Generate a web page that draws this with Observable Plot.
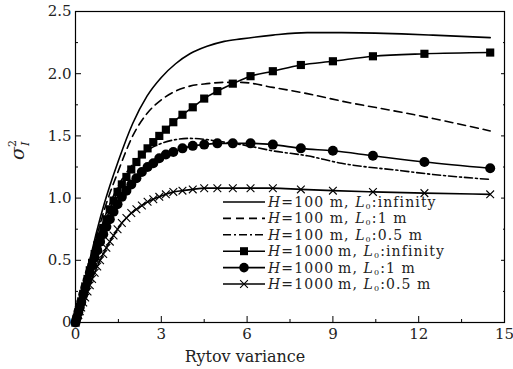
<!DOCTYPE html>
<html>
<head>
<meta charset="utf-8">
<script src="https://cdn.jsdelivr.net/npm/d3@7"></script>
<script src="https://cdn.jsdelivr.net/npm/@observablehq/plot@0.6"></script>
<style>
  html, body { margin: 0; padding: 0; background: #fff; }
  #chart { width: 513px; height: 369px; }
  #chart svg text { font-family: 'DejaVu Serif', 'Liberation Serif', serif !important; }
</style>
</head>
<body>
<div id="chart"></div>
<script>
// ---- data ----
// H = 100 m curves (no markers)
const xH100 = [0, 0.25, 0.5, 0.75, 1, 1.5, 2, 2.5, 3, 3.5, 4, 4.6, 5.2, 5.8, 6.9, 8.1, 9.3, 11.4, 12.5, 14.5];
const yH100Inf = [0, 0.26, 0.5, 0.74, 0.95, 1.3, 1.6, 1.82, 1.97, 2.08, 2.16, 2.22, 2.26, 2.28, 2.31, 2.33, 2.33, 2.32, 2.31, 2.29];
const yH100L1 = [0, 0.25, 0.48, 0.70, 0.9, 1.22, 1.5, 1.68, 1.79, 1.86, 1.9, 1.92, 1.93, 1.93, 1.89, 1.84, 1.78, 1.69, 1.64, 1.54];
const yH100L05 = [0, 0.23, 0.45, 0.65, 0.83, 1.1, 1.27, 1.38, 1.44, 1.47, 1.48, 1.47, 1.45, 1.43, 1.38, 1.34, 1.28, 1.22, 1.19, 1.15];

// H = 1000 m curves (with markers), shared sample positions
const xH1000 = [0, 0.05, 0.1, 0.15, 0.2, 0.27, 0.34, 0.42, 0.5, 0.58, 0.67, 0.76, 0.86, 0.97, 1.08, 1.2, 1.33, 1.47, 1.62, 1.78, 1.95, 2.13, 2.32, 2.52, 2.72, 2.93, 3.16, 3.42, 3.74, 4.1, 4.5, 4.96, 5.5, 6.12, 6.9, 7.88, 9.0, 10.4, 12.2, 14.5];
const yH1000Inf = [0, 0.04, 0.085, 0.125, 0.17, 0.23, 0.29, 0.35, 0.42, 0.48, 0.55, 0.62, 0.69, 0.76, 0.83, 0.91, 0.98, 1.05, 1.11, 1.17, 1.23, 1.29, 1.35, 1.40, 1.45, 1.50, 1.55, 1.61, 1.67, 1.73, 1.80, 1.86, 1.92, 1.98, 2.02, 2.07, 2.10, 2.14, 2.16, 2.17];
const yH1000L1 = [0, 0.04, 0.085, 0.125, 0.165, 0.225, 0.28, 0.34, 0.40, 0.46, 0.52, 0.58, 0.65, 0.71, 0.77, 0.83, 0.89, 0.95, 1.01, 1.06, 1.11, 1.16, 1.21, 1.25, 1.28, 1.32, 1.35, 1.37, 1.40, 1.42, 1.43, 1.44, 1.44, 1.44, 1.43, 1.40, 1.38, 1.34, 1.29, 1.24];
const yH1000L05 = [0, 0.03, 0.06, 0.09, 0.12, 0.16, 0.2, 0.25, 0.3, 0.35, 0.4, 0.45, 0.5, 0.55, 0.6, 0.65, 0.7, 0.75, 0.8, 0.84, 0.88, 0.91, 0.94, 0.97, 0.99, 1.01, 1.03, 1.05, 1.06, 1.07, 1.08, 1.08, 1.08, 1.08, 1.08, 1.07, 1.06, 1.05, 1.04, 1.03];

const xTicks = [0, 3, 6, 9, 12, 15];
const xMinor = [1.5, 4.5, 7.5, 10.5, 13.5];
const yTicks = [0, 0.5, 1.0, 1.5, 2.0, 2.5];
const yTickLabels = ["0", "0.5", "1.0", "1.5", "2.0", "2.5"];
const yMinor = [0.25, 0.75, 1.25, 1.75, 2.25];
const xLabel = "Rytov variance";
const legendLabels = [
  ["H", "=100 m, ", "L", "0", ":infinity"],
  ["H", "=100 m, ", "L", "0", ":1 m"],
  ["H", "=100 m, ", "L", "0", ":0.5 m"],
  ["H", "=1000\u2009m, ", "L", "0", ":infinity"],
  ["H", "=1000\u2009m, ", "L", "0", ":1 m"],
  ["H", "=1000\u2009m, ", "L", "0", ":0.5 m"]
];

// ---- build tables ----
const toRows = (xs, ys) => xs.map((x, i) => ({x, y: ys[i]}));
const s1 = toRows(xH100, yH100Inf);
const s2 = toRows(xH100, yH100L1);
const s3 = toRows(xH100, yH100L05);
const s4 = toRows(xH1000, yH1000Inf);
const s5 = toRows(xH1000, yH1000L1);
const s6 = toRows(xH1000, yH1000L05);

const FONT = "'DejaVu Serif', 'Liberation Serif', serif";
const FS = 15;
const curve = "monotone-x";
const blank = () => "";

const plot = Plot.plot({
  width: 513,
  height: 369,
  marginLeft: 75,
  marginRight: 9,
  marginTop: 11,
  marginBottom: 47,
  style: {fontFamily: FONT, fontSize: FS + "px", background: "white", color: "black"},
  x: {domain: [0, 15]},
  y: {domain: [0, 2.5]},
  marks: [
    // inward ticks
    Plot.axisX(xTicks, {tickSize: -6, tickFormat: blank, stroke: "black", label: null}),
    Plot.axisX(xMinor, {tickSize: -3, tickFormat: blank, stroke: "black", label: null}),
    Plot.axisX(xTicks, {tickSize: 0, tickPadding: 6, fontSize: FS, fill: "#222", label: null}),
    Plot.axisY(yTicks, {tickSize: -6, tickFormat: blank, stroke: "black", label: null}),
    Plot.axisY(yMinor, {tickSize: -3, tickFormat: blank, stroke: "black", label: null}),
    Plot.axisY(yTicks, {tickSize: 0, tickPadding: 4, fontSize: FS, fill: "#222", tickFormat: (d, i) => yTickLabels[i], label: null}),
    Plot.axisY(yTicks, {anchor: "right", tickSize: -4, tickFormat: blank, stroke: "black", label: null}),
    Plot.axisY(yMinor, {anchor: "right", tickSize: -2, tickFormat: blank, stroke: "black", label: null}),
    Plot.frame({stroke: "black", strokeWidth: 1.2}),
    // H = 100 m
    Plot.line(s1, {x: "x", y: "y", stroke: "black", strokeWidth: 1.6, curve}),
    Plot.line(s2, {x: "x", y: "y", stroke: "black", strokeWidth: 1.6, strokeDasharray: "8,5", curve}),
    Plot.line(s3, {x: "x", y: "y", stroke: "black", strokeWidth: 1.6, strokeDasharray: "8,3,2,3", curve}),
    // H = 1000 m
    Plot.line(s4, {x: "x", y: "y", stroke: "black", strokeWidth: 1.6, curve}),
    Plot.dot(s4, {x: "x", y: "y", symbol: "square", r: 4.6, fill: "black", stroke: "none"}),
    Plot.line(s5, {x: "x", y: "y", stroke: "black", strokeWidth: 1.6, curve}),
    Plot.dot(s5, {x: "x", y: "y", symbol: "circle", r: 5, fill: "black", stroke: "none"}),
    Plot.line(s6, {x: "x", y: "y", stroke: "black", strokeWidth: 1.6, curve}),
    Plot.dot(s6, {x: "x", y: "y", symbol: "times", r: 3.6, stroke: "black", strokeWidth: 1.1, fill: "none"})
  ]
});

document.getElementById("chart").appendChild(plot);
const svg = d3.select(plot);

// ---- x-axis label ----
svg.append("text")
  .attr("x", 245).attr("y", 362)
  .attr("text-anchor", "middle")
  .attr("font-size", 16)
  .attr("fill", "#222")
  .text(xLabel);

// ---- y-axis label: sigma_I^2 (rotated) ----
const ylab = svg.append("text")
  .attr("transform", "translate(24,150) rotate(-90)")
  .attr("text-anchor", "middle")
  .attr("font-size", 19)
  .attr("font-style", "italic")
  .attr("fill", "#222");
ylab.append("tspan").text("\u03C3");
ylab.append("tspan").attr("font-size", 11).attr("font-style", "normal").attr("dy", -8).text("2");
ylab.append("tspan").attr("font-size", 11).attr("dx", -6).attr("dy", 13).text("I");

// ---- legend ----
const lg = svg.append("g").attr("font-size", 14).attr("fill", "#222").attr("text-anchor", "start").attr("letter-spacing", 1.1);
const rowY0 = 202, rowDY = 16.4, lx1 = 223, lx2 = 265, tx = 268;
const styles = [
  {dash: null, sym: null},
  {dash: "8,5", sym: null},
  {dash: "8,3,2,3", sym: null},
  {dash: null, sym: "square"},
  {dash: null, sym: "circle"},
  {dash: null, sym: "times"}
];
styles.forEach((st, i) => {
  const y = rowY0 + i * rowDY;
  const ln = lg.append("line").attr("x1", lx1).attr("x2", lx2).attr("y1", y).attr("y2", y)
    .attr("stroke", "black").attr("stroke-width", 1.6);
  if (st.dash) ln.attr("stroke-dasharray", st.dash);
  const cx = (lx1 + lx2) / 2;
  if (st.sym === "square") lg.append("rect").attr("x", cx - 4).attr("y", y - 4).attr("width", 8).attr("height", 8).attr("fill", "black");
  if (st.sym === "circle") lg.append("circle").attr("cx", cx).attr("cy", y).attr("r", 4.8).attr("fill", "black");
  if (st.sym === "times") lg.append("path").attr("d", d3.symbol(d3.symbolTimes, Math.PI * 3.6 * 3.6)()).attr("transform", `translate(${cx},${y})`)
    .attr("stroke", "black").attr("stroke-width", 1.1).attr("fill", "none");
  const lab = legendLabels[i];
  const t = lg.append("text").attr("x", tx).attr("y", y).attr("dy", "0.35em").attr("text-anchor", "start");
  t.append("tspan").attr("font-style", "italic").text(lab[0]);
  t.append("tspan").text(lab[1]);
  t.append("tspan").attr("font-style", "italic").text(lab[2]);
  t.append("tspan").attr("font-size", 8).attr("dy", 2).text(lab[3]);
  t.append("tspan").attr("dy", -2).text(lab[4]);
});
</script>
</body>
</html>
